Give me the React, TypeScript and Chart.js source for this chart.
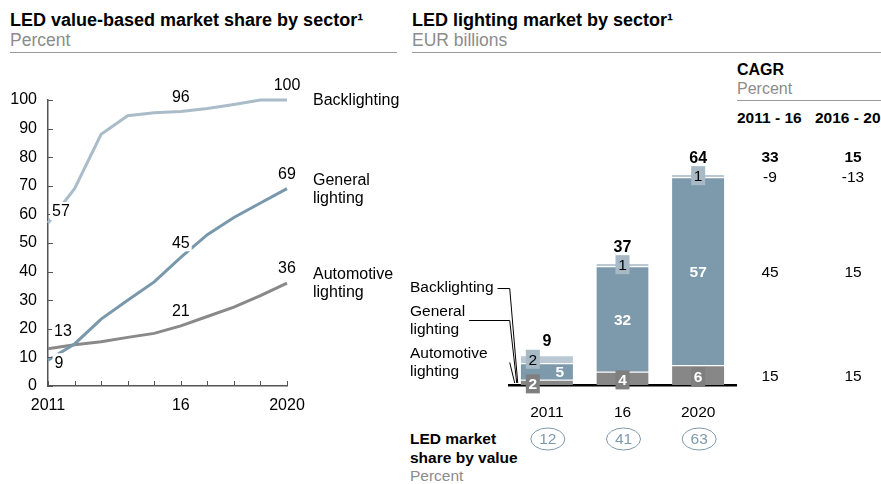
import React, { useEffect, useRef } from 'react';
import { Chart, registerables } from 'chart.js';

Chart.register(...registerables);

const FONT = "'Liberation Sans', Arial, Helvetica, sans-serif";

// ---------- Left chart: LED value-based market share by sector (percent) ----------
const shareYears = ['2011', '2012', '2013', '2014', '2015', '2016', '2017', '2018', '2019', '2020'];
const shareYearTickLabels = ['2011', '', '', '', '', '16', '', '', '', '2020'];
const backlightingShare = [57, 69, 88, 94.5, 95.5, 96, 97, 98.4, 100, 100];
const generalLightingShare = [9, 14.7, 23.4, 30, 36.4, 45, 52.9, 58.9, 64, 69];
const automotiveShare = [13, 14.4, 15.5, 17, 18.4, 21, 24.3, 27.6, 31.6, 36];
const labeledShareIndices = [0, 5, 9];
const shareSeriesNames = [['Backlighting'], ['General', 'lighting'], ['Automotive', 'lighting']];

// ---------- Right chart: LED lighting market by sector (EUR billions) ----------
const marketYears = ['2011', '16', '2020'];
const automotiveMarket = [1.6, 4, 6];
const generalMarket = [5, 32, 57];
const backlightingMarket = [2.4, 1, 1];
const marketTotals = [9, 37, 64];
const ledShareByValue = [12, 41, 63];
// rows: total, backlighting, general lighting, automotive lighting
const cagr2011to16 = [33, -9, 45, 15];
const cagr2016to20 = [15, -13, 15, 15];
const cagrHeaders = ['2011 - 16', '2016 - 20'];

const C_BACK_LINE = '#AABCC8';
const C_GEN_LINE = '#7A98AB';
const C_AUTO_LINE = '#898989';
const C_BACK_BAR = '#B9C8D2';
const C_BACK_BOX = '#A7B9C5';
const C_GEN_BAR = '#7D9AAD';
const C_AUTO_BAR = '#878787';
const C_AUTO_BOX = '#7F7F7F';
const C_GREY_TEXT = '#8C8C8C';

const lineLabelsPlugin = {
  id: 'lineLabels',
  afterDatasetsDraw(chart: any) {
    const ctx = chart.ctx;
    const area = chart.chartArea;
    const xs = chart.scales.x;
    const ys = chart.scales.y;
    ctx.save();
    // inward ticks
    ctx.strokeStyle = '#555';
    ctx.lineWidth = 1;
    ys.ticks.forEach((t: any) => {
      const y = Math.round(ys.getPixelForValue(t.value)) + 0.5;
      ctx.beginPath();
      ctx.moveTo(area.left, y);
      ctx.lineTo(area.left + 5, y);
      ctx.stroke();
    });
    shareYears.forEach((_, i) => {
      const x = Math.round(xs.getPixelForValue(i)) + 0.5;
      ctx.beginPath();
      ctx.moveTo(x, area.bottom);
      ctx.lineTo(x, area.bottom - 5);
      ctx.stroke();
    });
    // value labels
    ctx.font = `16px ${FONT}`;
    ctx.textAlign = 'center';
    ctx.textBaseline = 'middle';
    const firstOffsets: Record<string, [number, number]> = {
      back: [13, -12],
      gen: [11, 2],
      auto: [15, -18],
    };
    chart.data.datasets.forEach((ds: any, di: number) => {
      const meta = chart.getDatasetMeta(di);
      labeledShareIndices.forEach((idx) => {
        const pt = meta.data[idx];
        let dx = 0;
        let dy = -15;
        if (idx === 0) {
          [dx, dy] = firstOffsets[ds.key];
        }
        const txt = String(Math.round(ds.data[idx]));
        const x = pt.x + dx;
        const y = pt.y + dy;
        const w = ctx.measureText(txt).width + 4;
        ctx.fillStyle = '#fff';
        ctx.fillRect(x - w / 2, y - 9, w, 18);
        ctx.fillStyle = '#000';
        ctx.fillText(txt, x, y + 1);
      });
      // series names at the right, centred on the last point
      const last = meta.data[meta.data.length - 1];
      const names = shareSeriesNames[ds.nameIdx];
      ctx.textAlign = 'left';
      const lh = 18;
      names.forEach((n: string, k: number) => {
        ctx.fillText(n, area.right + 26, last.y + 1 + (k - (names.length - 1) / 2) * lh);
      });
      ctx.textAlign = 'center';
    });
    ctx.restore();
  },
};

function drawBox(ctx: any, cx: number, cy: number, bg: string, fg: string, bold: boolean, txt: string) {
  const w = 14;
  const h = 19;
  ctx.fillStyle = bg;
  ctx.fillRect(cx - w / 2, cy - h / 2, w, h);
  ctx.fillStyle = fg;
  ctx.font = `${bold ? 'bold ' : ''}15.5px ${FONT}`;
  ctx.fillText(txt, cx, cy + 1);
}

const barLabelsPlugin = {
  id: 'barLabels',
  afterDraw(chart: any) {
    const ctx = chart.ctx;
    const metaA = chart.getDatasetMeta(0);
    const metaG = chart.getDatasetMeta(1);
    const metaB = chart.getDatasetMeta(2);
    ctx.save();
    ctx.textAlign = 'center';
    ctx.textBaseline = 'middle';
    let rowY: number[] = [];
    for (let i = 0; i < marketYears.length; i++) {
      const a = metaA.data[i];
      const g = metaG.data[i];
      const b = metaB.data[i];
      const cx = a.x;
      const crowded = a.base - b.y < 40;
      const shift = crowded ? 14 : 0;
      // automotive
      const aC = (a.y + a.base) / 2;
      const aTxt = String(Math.round(automotiveMarket[i]));
      if (a.base - a.y < 22) {
        drawBox(ctx, cx - shift, aC + 1.5, C_AUTO_BOX, '#fff', true, aTxt);
      } else {
        ctx.fillStyle = '#fff';
        ctx.font = `bold 15.5px ${FONT}`;
        ctx.fillText(aTxt, cx, aC + 1.5);
      }
      // general
      const gC = (g.y + g.base) / 2;
      ctx.fillStyle = '#fff';
      ctx.font = `bold 15.5px ${FONT}`;
      ctx.fillText(String(Math.round(generalMarket[i])), cx + (crowded ? 13 : 0), gC + 1.5);
      // backlighting
      const bC = (b.y + b.base) / 2;
      drawBox(ctx, cx - shift, bC, C_BACK_BOX, '#000', false, String(Math.round(backlightingMarket[i])));
      // total
      const tY = bC - 9.5 - 8;
      ctx.fillStyle = '#000';
      ctx.font = `bold 16px ${FONT}`;
      ctx.fillText(String(marketTotals[i]), cx, tY);
      if (i === marketYears.length - 1) rowY = [tY, bC + 2, gC + 1.5, aC + 2];

      // LED market share by value ellipses
      ctx.beginPath();
      ctx.ellipse(cx + 1, 439, 17, 11, 0, 0, Math.PI * 2);
      ctx.strokeStyle = C_GEN_BAR;
      ctx.lineWidth = 1;
      ctx.stroke();
      ctx.fillStyle = '#7D9AAD';
      ctx.font = `15.5px ${FONT}`;
      ctx.fillText(String(ledShareByValue[i]), cx + 1, 440);
    }
    // CAGR columns
    const colX = [370, 453];
    rowY.forEach((y, r) => {
      ctx.font = `${r === 0 ? 'bold ' : ''}15.5px ${FONT}`;
      ctx.fillStyle = '#000';
      ctx.fillText(String(cagr2011to16[r]), colX[0], y);
      ctx.fillText(String(cagr2016to20[r]), colX[1], y);
    });

    // segment legend with leader lines
    const a0 = metaA.data[0];
    const barLeft = a0.x - a0.width / 2;
    const base = a0.base;
    const jx = barLeft - 11;
    ctx.textAlign = 'left';
    ctx.font = `15.5px ${FONT}`;
    ctx.fillStyle = '#000';
    ctx.strokeStyle = '#000';
    ctx.lineWidth = 1;
    const legends = [
      { lines: ['Backlighting'], y: 288, ly: 288, end: barLeft - 3 },
      { lines: ['General', 'lighting'], y: 312, ly: 320, end: barLeft - 4 },
      { lines: ['Automotive', 'lighting'], y: 354, ly: 362, end: barLeft - 6 },
    ];
    legends.forEach((lg, k) => {
      lg.lines.forEach((t, j) => ctx.fillText(t, 10, lg.y + j * 17.5));
      const startX = k === 2 ? jx : 10 + Math.max(...lg.lines.map((t) => ctx.measureText(t).width)) + 4;
      ctx.beginPath();
      ctx.moveTo(startX, lg.ly + 0.5);
      ctx.lineTo(jx, lg.ly + 0.5);
      ctx.lineTo(lg.end, base - 2);
      ctx.stroke();
    });
    ctx.restore();
  },
};

function Txt(props: { x: number; y: number; size?: number; bold?: boolean; color?: string; children: any }) {
  const size = props.size ?? 17.5;
  return (
    <div
      style={{
        position: 'absolute',
        left: props.x,
        top: props.y,
        transform: 'translateY(-50%)',
        fontFamily: FONT,
        fontSize: size,
        fontWeight: props.bold ? 'bold' : 'normal',
        color: props.color ?? '#000',
        whiteSpace: 'nowrap',
        lineHeight: 1.15,
      }}
    >
      {props.children}
    </div>
  );
}

function Rule(props: { x: number; y: number; w: number }) {
  return (
    <div style={{ position: 'absolute', left: props.x, top: props.y, width: props.w, height: 1, background: '#9A9A9A' }} />
  );
}

export default function App() {
  const lineRef = useRef<HTMLCanvasElement>(null);
  const barRef = useRef<HTMLCanvasElement>(null);

  useEffect(() => {
    const lineChart = new Chart(lineRef.current as HTMLCanvasElement, {
      type: 'line',
      data: {
        labels: shareYears,
        datasets: [
          { key: 'back', nameIdx: 0, data: backlightingShare, borderColor: C_BACK_LINE, order: 2 } as any,
          { key: 'gen', nameIdx: 1, data: generalLightingShare, borderColor: C_GEN_LINE, order: 0 } as any,
          { key: 'auto', nameIdx: 2, data: automotiveShare, borderColor: C_AUTO_LINE, order: 1 } as any,
        ].map((d) => ({ ...d, borderWidth: 3, pointRadius: 0, tension: 0, fill: false, clip: false })),
      },
      options: {
        animation: false,
        responsive: false,
        events: [],
        layout: { padding: { left: 0, right: 113, top: 100, bottom: 68 } },
        plugins: { legend: { display: false }, tooltip: { enabled: false } },
        scales: {
          x: {
            type: 'category',
            offset: false,
            grid: { display: false, drawTicks: false },
            border: { display: true, color: '#555', width: 1.5 },
            ticks: {
              autoSkip: false,
              maxRotation: 0,
              padding: 10,
              color: '#000',
              font: { family: FONT, size: 16 },
              callback: (_v: any, i: number) => shareYearTickLabels[i],
            },
            afterFit: (s: any) => {
              s.height = 30;
            },
          },
          y: {
            min: 0,
            max: 100,
            grid: { display: false, drawTicks: false },
            border: { display: true, color: '#555', width: 1.5 },
            ticks: { stepSize: 10, padding: 11, color: '#000', font: { family: FONT, size: 16 } },
            afterFit: (s: any) => {
              s.width = 48;
            },
          },
        },
      },
      plugins: [lineLabelsPlugin],
    });

    const barChart = new Chart(barRef.current as HTMLCanvasElement, {
      type: 'bar',
      data: {
        labels: marketYears,
        datasets: [
          { data: automotiveMarket, backgroundColor: C_AUTO_BAR },
          { data: generalMarket, backgroundColor: C_GEN_BAR },
          { data: backlightingMarket, backgroundColor: C_BACK_BAR },
        ].map((d) => ({
          ...d,
          borderColor: '#fff',
          borderWidth: { top: 1, left: 0, right: 0, bottom: 0 },
          borderSkipped: false,
          barPercentage: 0.69,
          categoryPercentage: 1,
        })),
      },
      options: {
        animation: false,
        responsive: false,
        events: [],
        layout: { padding: { left: 109, right: 145, top: 174, bottom: 59 } },
        plugins: { legend: { display: false }, tooltip: { enabled: false } },
        scales: {
          x: {
            stacked: true,
            grid: { display: false, drawTicks: false },
            border: { display: true, color: '#000', width: 2.5 },
            ticks: { padding: 18, color: '#000', font: { family: FONT, size: 15.5 } },
            afterFit: (s: any) => {
              s.height = 40;
            },
          },
          y: { stacked: true, display: false, min: 0, max: 64 },
        },
      },
      plugins: [barLabelsPlugin],
    });

    return () => {
      lineChart.destroy();
      barChart.destroy();
    };
  }, []);

  return (
    <div style={{ position: 'absolute', left: 0, top: 0, width: 881, height: 484, background: '#fff', overflow: 'hidden' }}>
      <Txt x={10} y={20} size={18} bold>LED value-based market share by sector¹</Txt>
      <Txt x={10} y={40} color={C_GREY_TEXT}>Percent</Txt>
      <Rule x={10} y={52} w={387} />
      <Txt x={412} y={20} size={18} bold>LED lighting market by sector¹</Txt>
      <Txt x={412} y={40} color={C_GREY_TEXT}>EUR billions</Txt>
      <Rule x={412} y={52} w={469} />
      <Txt x={737} y={70} size={16} bold>CAGR</Txt>
      <Txt x={737} y={89} size={16} color={C_GREY_TEXT}>Percent</Txt>
      <Rule x={737} y={100} w={144} />
      <Txt x={737} y={118} size={15.5} bold>{cagrHeaders[0]}</Txt>
      <Txt x={815} y={118} size={15.5} bold>{cagrHeaders[1]}</Txt>
      <Txt x={410} y={439} size={15.5} bold>LED market</Txt>
      <Txt x={410} y={458} size={15.5} bold>share by value</Txt>
      <Txt x={410} y={476} size={15.5} color={C_GREY_TEXT}>Percent</Txt>
      <canvas ref={lineRef} width={400} height={484} style={{ position: 'absolute', left: 0, top: 0 }} />
      <canvas ref={barRef} width={481} height={484} style={{ position: 'absolute', left: 400, top: 0 }} />
    </div>
  );
}
